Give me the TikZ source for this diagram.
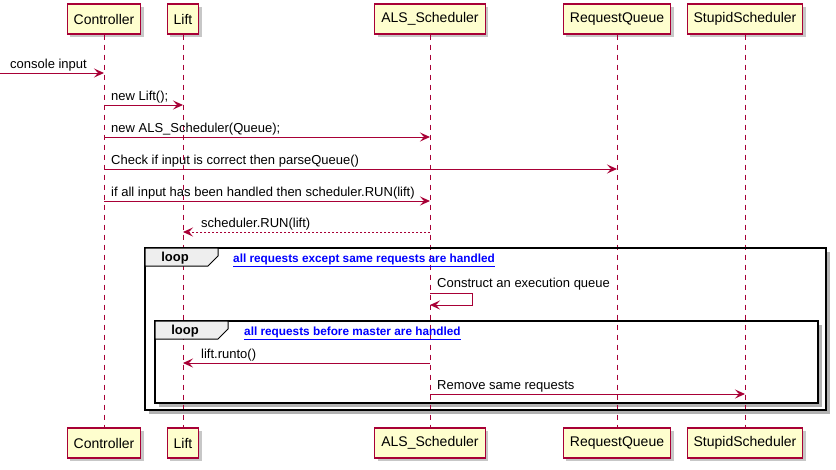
\documentclass[tikz,border=0pt]{standalone}
\usepackage{fontspec}
\setmainfont{Liberation Sans}
\usetikzlibrary{arrows.meta,shadows}
\definecolor{pfill}{HTML}{FEFECE}
\definecolor{pline}{HTML}{A80036}
\definecolor{tabfill}{HTML}{EEEEEE}
\definecolor{condblue}{HTML}{0000FF}
\begin{document}
\begin{tikzpicture}[x=1pt,y=-1pt,
  part/.style={draw=pline, fill=pfill, line width=1.1pt, minimum height=30pt,
    inner xsep=6.5pt, inner ysep=0pt, font=\fontsize{14}{16}\selectfont,
    drop shadow={shadow xshift=3pt, shadow yshift=-3pt, fill=black, opacity=0.22}},
  life/.style={draw=pline, line width=0.8pt, dash pattern=on 5pt off 5pt},
  msg/.style={draw=pline, line width=1pt, -{Stealth[length=10pt,width=9pt,inset=4pt]}},
  ret/.style={msg, dash pattern=on 2pt off 2pt},
  lbl/.style={anchor=base west, inner sep=0pt, font=\fontsize{13}{15}\selectfont},
  frmbg/.style={fill=white, drop shadow={shadow xshift=3.5pt, shadow yshift=-3.5pt, fill=black, opacity=0.3}},
  frm/.style={draw=black, line width=1.5pt},
  tabshape/.style={draw=black, line width=1pt, fill=tabfill},
  looplbl/.style={inner sep=0pt, font=\fontsize{13}{15}\selectfont\bfseries},
  cond/.style={anchor=base west, inner sep=0pt, text=condblue, font=\fontsize{11.8}{13}\selectfont\bfseries}
]
\useasboundingbox (0,0) rectangle (836,469);

% frames background (white + shadow)
\path[frmbg] (145,248) rectangle (826,410);
\path[frmbg] (155,321) rectangle (818,403);

% participants
\node[part] (cT) at (104,19) {Controller};
\node[part] (lT) at (183,19) {Lift};
\node[part] (aT) at (430,19) {ALS\_Scheduler};
\node[part] (rT) at (617,19) {RequestQueue};
\node[part] (sT) at (745,19) {StupidScheduler};
\node[part] (cB) at (104,443) {Controller};
\node[part] (lB) at (183,443) {Lift};
\node[part] (aB) at (430,443) {ALS\_Scheduler};
\node[part] (rB) at (617,443) {RequestQueue};
\node[part] (sB) at (745,443) {StupidScheduler};

% lifelines
\draw[life] (cT.south) -- (cB.north);
\draw[life] (lT.south) -- (lB.north);
\draw[life] (aT.south) -- (aB.north);
\draw[life] (rT.south) -- (rB.north);
\draw[life] (sT.south) -- (sB.north);

% frames
\draw[frm] (145,248) rectangle (826,410);
\draw[tabshape] (145,248) -- (218,248) -- (218,256) -- (208,266) -- (145,266) -- cycle;
\node[looplbl] (loop1) at (175,258) {loop};
\node[cond] (cond1) at (233,262) {\underline{all requests except same requests are handled}};

\draw[frm] (155,321) rectangle (818,403);
\draw[tabshape] (155,321) -- (228,321) -- (228,329) -- (218,339) -- (155,339) -- cycle;
\node[looplbl] (loop2) at (185,331) {loop};
\node[cond] (cond2) at (244,335) {\underline{all requests before master are handled}};

% messages
\coordinate (src) at (0,73);
\draw[msg] (src) -- (cT |- src);
\node[lbl] (t1) at (10,68.5) {console input};

\coordinate (y2) at (0,105);
\draw[msg] (cT |- y2) -- (lT |- y2);
\node[lbl] (t2) at (111,100.5) {new Lift();};

\coordinate (y3) at (0,137);
\draw[msg] (cT |- y3) -- (aT |- y3);
\node[lbl] (t3) at (111,132.5) {new ALS\_Scheduler(Queue);};

\coordinate (y4) at (0,169);
\draw[msg] (cT |- y4) -- (rT |- y4);
\node[lbl] (t4) at (111,164.5) {Check if input is correct then parseQueue()};

\coordinate (y5) at (0,201);
\draw[msg] (cT |- y5) -- (aT |- y5);
\node[lbl] (t5) at (111,196.5) {if all input has been handled then scheduler.RUN(lift)};

\coordinate (y6) at (0,232);
\draw[ret] (aT |- y6) -- (lT |- y6);
\node[lbl] (t6) at (201,227.5) {scheduler.RUN(lift)};

\coordinate (y7) at (0,293);
\coordinate (y7b) at (0,305);
\draw[msg] (aT |- y7) -- ++(42,0) -- ++(0,12) -- (aT |- y7b);
\node[lbl] (t7) at (437,287) {Construct an execution queue};

\coordinate (y8) at (0,363);
\draw[msg] (aT |- y8) -- (lT |- y8);
\node[lbl] (t8) at (201,358.5) {lift.runto()};

\coordinate (y9) at (0,394);
\draw[msg] (aT |- y9) -- (sT |- y9);
\node[lbl] (t9) at (437,389.5) {Remove same requests};
\end{tikzpicture}
\end{document}
